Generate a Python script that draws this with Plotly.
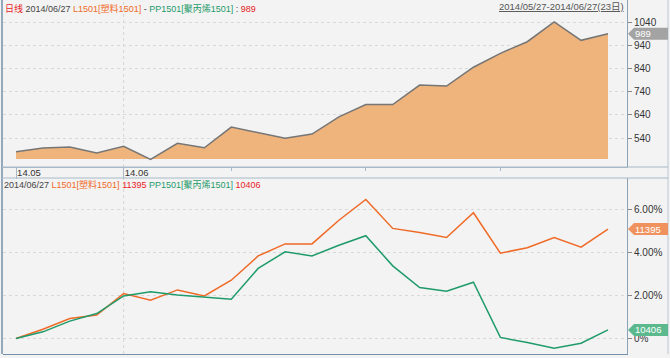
import plotly.graph_objects as go

# ---- data ----
dates = ["05/27", "05/28", "05/29", "05/30", "06/03", "06/04", "06/05", "06/06",
         "06/09", "06/10", "06/11", "06/12", "06/13", "06/16", "06/17", "06/18",
         "06/19", "06/20", "06/23", "06/24", "06/25", "06/26", "06/27"]
spread = [481, 497, 501, 475, 504, 448, 517, 498, 587, 562, 539, 557, 631,
          684, 684, 768, 764, 845, 905, 955, 1040, 961, 989]
l1501_pct = [0, 0.43, 0.93, 1.09, 2.09, 1.78, 2.26, 1.98, 2.71, 3.84, 4.40, 4.40,
             5.50, 6.47, 5.12, 4.93, 4.70, 5.85, 3.97, 4.22, 4.70, 4.25, 5.09]
pp1501_pct = [0, 0.31, 0.81, 1.16, 1.98, 2.17, 2.02, 1.92, 1.83, 3.26, 4.03, 3.84,
              4.34, 4.78, 3.38, 2.37, 2.20, 2.62, 0.05, -0.19, -0.45, -0.22, 0.40]
spread_ticks = [540, 640, 740, 840, 940, 1040]
pct_ticks = [0, 2, 4, 6]
pct_tick_text = ["0%", "2.00%", "4.00%", "6.00%"]
month_ticks = ["05/27", "06/03"]
month_text = ["14.05", "14.06"]
week_ticks = ["06/09", "06/16", "06/23"]
last_l, last_pp, last_spread = 11395, 10406, 989
fill_base = 450

# ---- style ----
W, H = 670, 358
ML, MR, MT, MB = 3, 43, 0, 4
PW, PH = W - ML - MR, H - MT - MB
BG = "#f3f3f3"
FONT = "Liberation Sans, Arial, Noto Sans CJK SC"
ORANGE = "#ef6a27"
GREEN = "#1f9b6b"
EDGE = "#7590aa"


def py(pix):
    return 1 - (pix - MT) / PH


def px(pix):
    return (pix - ML) / PW


top_dom = [py(167), py(0)]
bot_dom = [py(354), py(178)]

fig = go.Figure()
fig.add_trace(go.Scatter(x=dates, y=[fill_base] * len(dates), mode="lines",
                         line=dict(width=0), xaxis="x", yaxis="y",
                         hoverinfo="skip", showlegend=False))
fig.add_trace(go.Scatter(x=dates, y=spread, mode="lines", fill="tonexty",
                         fillcolor="#efb37c", line=dict(color="#767676", width=1.5),
                         xaxis="x", yaxis="y", showlegend=False))
fig.add_trace(go.Scatter(x=dates, y=l1501_pct, mode="lines",
                         line=dict(color=ORANGE, width=1.5),
                         xaxis="x2", yaxis="y2", showlegend=False))
fig.add_trace(go.Scatter(x=dates, y=pp1501_pct, mode="lines",
                         line=dict(color=GREEN, width=1.5),
                         xaxis="x2", yaxis="y2", showlegend=False))

n = len(dates)
x0 = 16
step = (608 - 16) / (n - 1)
xr = [(ML - x0) / step, (ML + PW - x0) / step]

top_scale = (138 - 22) / 500.0
top_range = [1040 - (167 - 22) / top_scale, 1040 + 22 / top_scale]
bot_scale = 21.5
bot_range = [-(354 - 338.5) / bot_scale, (338.5 - 178) / bot_scale]

yaxis_common = dict(side="right", showline=True, linecolor="#8aa1b6", linewidth=1,
                    ticks="outside", ticklen=4, tickcolor="#8a8a8a",
                    tickfont=dict(size=10, color="#333", family=FONT),
                    showgrid=True, gridcolor="#d9d9d9", griddash="dot", gridwidth=1,
                    zeroline=False, fixedrange=True, automargin=False)

fig.update_layout(
    width=W, height=H,
    margin=dict(l=ML, r=MR, t=MT, b=MB, autoexpand=False),
    paper_bgcolor=BG, plot_bgcolor=BG,
    hovermode=False,
    xaxis=dict(domain=[0, 1], anchor="y", type="category", categoryorder="array",
               categoryarray=dates, range=xr, showgrid=False, zeroline=False,
               showline=True, linecolor="#a9b9c8", linewidth=1,
               tickmode="array", tickvals=month_ticks, ticktext=month_text,
               ticks="outside", ticklen=11, tickcolor="#a9b9c8",
               ticklabelshift=13, ticklabelstandoff=-14, automargin=False,
               tickfont=dict(size=9.5, color="#333", family=FONT),
               minor=dict(tickmode="array", tickvals=week_ticks, ticks="outside",
                          ticklen=3, tickcolor="#a9b9c8", showgrid=False)),
    yaxis=dict(domain=top_dom, anchor="x", range=top_range, tickvals=spread_ticks,
               **yaxis_common),
    xaxis2=dict(domain=[0, 1], anchor="y2", type="category", categoryorder="array",
                categoryarray=dates, range=xr, showgrid=False, zeroline=False,
                showline=True, linecolor=EDGE, linewidth=1, showticklabels=False,
                ticks="", automargin=False),
    yaxis2=dict(domain=bot_dom, anchor="x2", range=bot_range, tickvals=pct_ticks,
                ticktext=pct_tick_text, **yaxis_common),
)

shapes = []
# month boundary dotted gridlines
for yr in ["y domain", "y2 domain"]:
    shapes.append(dict(type="line", xref="x", yref=yr, x0=month_ticks[1], x1=month_ticks[1],
                       y0=0, y1=1, line=dict(color="#d5d5d5", width=1, dash="dot"), layer="below"))
# frame lines
shapes.append(dict(type="line", xref="paper", yref="paper", x0=px(2), x1=px(2),
                   y0=py(354), y1=py(0), line=dict(color=EDGE, width=1.5)))
shapes.append(dict(type="line", xref="paper", yref="paper", x0=px(668), x1=px(668),
                   y0=py(354), y1=py(0), line=dict(color="#b8c6d3", width=1)))
for yy in [167, 178]:
    shapes.append(dict(type="line", xref="paper", yref="paper", x0=px(2), x1=px(668),
                       y0=py(yy), y1=py(yy), line=dict(color="#a9b9c8", width=1)))
# value tags
tag_path = "M1,0 L7,6 L41,6 L41,-6 L7,-6 Z"
for val, yref, col in [(last_spread, "y", "#a3a3a3"),
                       (l1501_pct[-1], "y2", "#f0925e"),
                       (pp1501_pct[-1], "y2", "#5bb98d")]:
    shapes.append(dict(type="path", xref="paper", yref=yref, xsizemode="pixel",
                       ysizemode="pixel", xanchor=1, yanchor=val, path=tag_path,
                       fillcolor=col, line=dict(width=0)))
fig.update_layout(shapes=shapes)

ann = []
for val, yref, txt in [(last_spread, "y", str(last_spread)),
                       (l1501_pct[-1], "y2", str(last_l)),
                       (pp1501_pct[-1], "y2", str(last_pp))]:
    ann.append(dict(xref="paper", yref=yref, x=1, y=val, xanchor="left", yanchor="middle",
                    xshift=6, text=txt, showarrow=False,
                    font=dict(size=9.5, color="white", family=FONT)))

hdr1 = ('<span style="color:#e8231f">日线</span> '
        '<span style="color:#444">2014/06/27</span> '
        f'<span style="color:{ORANGE}">L1501[塑料1501]</span> '
        '<span style="color:#444">-</span> '
        f'<span style="color:{GREEN}">PP1501[聚丙烯1501]</span> '
        f'<span style="color:#444">:</span> <span style="color:#e8231f">{last_spread}</span>')
ann.append(dict(xref="paper", yref="paper", x=px(3), y=py(8), xanchor="left",
                yanchor="middle", text=hdr1, showarrow=False,
                font=dict(size=9, family=FONT)))
ann.append(dict(xref="paper", yref="paper", x=px(626), y=py(7), xanchor="right",
                yanchor="middle", text="<u>2014/05/27-2014/06/27(23日)</u>", showarrow=False,
                font=dict(size=9.5, color="#555", family=FONT)))
hdr2 = ('<span style="color:#444">2014/06/27</span> '
        f'<span style="color:{ORANGE}">L1501[塑料1501]</span> '
        f'<span style="color:#e8231f">{last_l}</span> '
        f'<span style="color:{GREEN}">PP1501[聚丙烯1501]</span> '
        f'<span style="color:#e8231f">{last_pp}</span>')
ann.append(dict(xref="paper", yref="paper", x=px(2), y=py(184), xanchor="left",
                yanchor="middle", text=hdr2, showarrow=False,
                font=dict(size=9, family=FONT)))
fig.update_layout(annotations=ann)

fig.write_html("out.html", config={"displayModeBar": False},
               post_script="document.body.style.margin='0';document.body.style.padding='0';")
